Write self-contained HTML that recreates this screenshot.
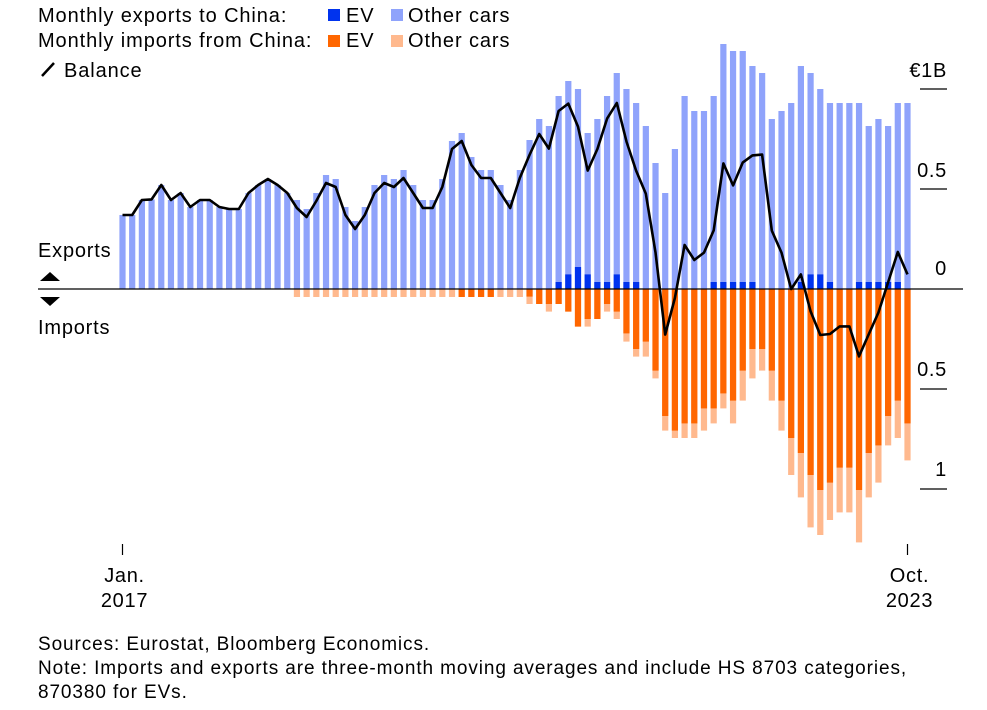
<!DOCTYPE html>
<html><head><meta charset="utf-8"><style>
body{margin:0;background:#fff;font-family:"Liberation Sans",sans-serif;color:#000}
svg text{font-family:"Liberation Sans",sans-serif}
</style></head><body>
<svg id="c" width="987" height="705">
<g font-size="20" letter-spacing="0.9">
<text x="38" y="22">Monthly exports to China:</text>
<rect x="328" y="9" width="12" height="12" fill="#0033ee"/>
<text x="346" y="22">EV</text>
<rect x="391" y="9" width="12" height="12" fill="#8fa3fb"/>
<text x="408" y="22">Other cars</text>
<text x="38" y="47">Monthly imports from China:</text>
<rect x="328" y="35" width="12" height="12" fill="#ff6600"/>
<text x="346" y="47">EV</text>
<rect x="391" y="35" width="12" height="12" fill="#ffb98e"/>
<text x="408" y="47">Other cars</text>
<line x1="42" y1="76" x2="54" y2="63" stroke="#000" stroke-width="2.5"/>
<text x="64" y="77">Balance</text>
</g>
<g id="bars"></g>
<line x1="38" y1="289" x2="963" y2="289" stroke="#000" stroke-width="1.2"/>
<g id="axis" font-size="20" letter-spacing="0.7"></g>
<text x="38" y="257" font-size="20" letter-spacing="0.8">Exports</text>
<polygon points="40,281 50,272 60,281" fill="#000"/>
<polygon points="40,297 50,306 60,297" fill="#000"/>
<text x="38" y="334" font-size="20" letter-spacing="0.8">Imports</text>
<g font-size="19" letter-spacing="0.9">
<text x="38" y="650">Sources: Eurostat, Bloomberg Economics.</text>
<text x="38" y="674">Note: Imports and exports are three-month moving averages and include HS 8703 categories,</text>
<text x="38" y="698">870380 for EVs.</text>
</g>
</svg>
<script>
const exportTotal=[0.37,0.37,0.445,0.448,0.52,0.445,0.48,0.41,0.445,0.445,0.41,0.40,0.40,0.48,0.52,0.55,0.52,0.48,0.445,0.40,0.48,0.57,0.55,0.41,0.34,0.41,0.52,0.57,0.55,0.595,0.52,0.445,0.445,0.55,0.74,0.78,0.66,0.595,0.595,0.52,0.445,0.595,0.745,0.85,0.815,0.965,1.04,1.0,0.78,0.85,0.965,1.08,1.0,0.93,0.815,0.63,0.48,0.70,0.965,0.89,0.89,0.965,1.225,1.19,1.19,1.115,1.08,0.85,0.89,0.93,1.115,1.08,1.0,0.93,0.93,0.93,0.93,0.815,0.85,0.815,0.93,0.93];
const exportEV=[0,0,0,0,0,0,0,0,0,0,0,0,0,0,0,0,0,0,0,0,0,0,0,0,0,0,0,0,0,0,0,0,0,0,0,0,0,0,0,0,0,0,0,0,0,0.035,0.073,0.11,0.073,0.035,0.035,0.073,0.035,0.035,0,0,0,0,0,0,0,0.035,0.035,0.035,0.035,0.035,0,0,0,0,0.035,0.073,0.073,0.035,0,0,0.035,0.035,0.035,0.035,0.035,0];
const importTotal=[0,0,0,0,0,0,0,0,0,0,0,0,0,0,0,0,0,0,0.04,0.04,0.04,0.04,0.04,0.04,0.04,0.04,0.04,0.04,0.04,0.04,0.04,0.04,0.04,0.04,0.04,0.04,0.04,0.04,0.04,0.04,0.04,0.04,0.075,0.075,0.113,0.075,0.113,0.188,0.188,0.15,0.113,0.15,0.263,0.338,0.338,0.447,0.708,0.745,0.745,0.745,0.708,0.672,0.597,0.672,0.558,0.447,0.408,0.558,0.708,0.93,1.042,1.192,1.23,1.155,1.117,1.117,1.267,1.042,0.968,0.782,0.745,0.857];
const importEV=[0,0,0,0,0,0,0,0,0,0,0,0,0,0,0,0,0,0,0,0,0,0,0,0,0,0,0,0,0,0,0,0,0,0,0,0.04,0.04,0.04,0.04,0,0,0,0.038,0.075,0.075,0.075,0.113,0.188,0.15,0.15,0.075,0.113,0.222,0.30,0.263,0.408,0.635,0.708,0.672,0.672,0.597,0.597,0.522,0.558,0.408,0.30,0.30,0.408,0.558,0.745,0.82,0.93,1.005,0.968,0.893,0.893,1.005,0.82,0.782,0.635,0.558,0.672];
const yTicksUp=[{v:1,l:"€1B"},{v:0.5,l:"0.5"},{v:0,l:"0"}];
const yTicksDown=[{v:0.5,l:"0.5"},{v:1,l:"1"}];
const xTickLabels=[{i:0,a:"Jan.",b:"2017"},{i:81,a:"Oct.",b:"2023"}];
const NS="http://www.w3.org/2000/svg";
const x0=122.5,step=(907.5-122.5)/81,zeroY=289,pxPerB=200,bw=6.2;
const X=i=>x0+i*step;
const Y=v=>zeroY-v*pxPerB;
const bars=document.getElementById('bars');
function rect(x,y,w,h,fill){const r=document.createElementNS(NS,'rect');r.setAttribute('x',x);r.setAttribute('y',y);r.setAttribute('width',w);r.setAttribute('height',Math.max(0,h));r.setAttribute('fill',fill);bars.appendChild(r);return r;}
exportTotal.forEach((v,i)=>{
 const cx=X(i)-bw/2;
 let r=rect(cx,Y(v),bw,zeroY-Y(v),'#8fa3fb');
 
 
 if(exportEV[i]>0){r=rect(cx,Y(exportEV[i]),bw,zeroY-Y(exportEV[i]),'#0033ee');
 
 }
 if(importTotal[i]>0){r=rect(cx,zeroY,bw,importTotal[i]*pxPerB,'#ffb98e');
 
 }
 if(importEV[i]>0){r=rect(cx,zeroY,bw,importEV[i]*pxPerB,'#ff6600');
 
 }
});
const pts=exportTotal.map((v,i)=>X(i).toFixed(1)+','+Y(v-importTotal[i]).toFixed(1)).join(' ');
const pl=document.createElementNS(NS,'polyline');
pl.setAttribute('points',pts);pl.setAttribute('fill','none');pl.setAttribute('stroke','#000');pl.setAttribute('stroke-width','2.6');pl.setAttribute('stroke-linejoin','round');


document.getElementById('c').appendChild(pl);
const ax=document.getElementById('axis');
function txt(x,y,s,anchor){const t=document.createElementNS(NS,'text');t.setAttribute('x',x);t.setAttribute('y',y);t.setAttribute('text-anchor',anchor);t.textContent=s;ax.appendChild(t);return t;}
function ln(x1,y1,x2,y2){const l=document.createElementNS(NS,'line');l.setAttribute('x1',x1);l.setAttribute('y1',y1);l.setAttribute('x2',x2);l.setAttribute('y2',y2);l.setAttribute('stroke','#000');l.setAttribute('stroke-width','1.2');ax.appendChild(l);return l;}
yTicksUp.forEach(t=>{
 if(t.v>0){const l=ln(920,Y(t.v),947,Y(t.v));
 
 }
 const e=txt(947,Y(t.v)-(t.v>0?12:14),t.l,'end');
 
 
});
yTicksDown.forEach(t=>{
 const l=ln(920,zeroY+t.v*pxPerB,947,zeroY+t.v*pxPerB);
 
 
 const e=txt(947,zeroY+t.v*pxPerB-13,t.l,'end');
 
 
});
xTickLabels.forEach(t=>{
 const l=ln(X(t.i),544,X(t.i),555);
 
 
 let e=txt(X(t.i)+2,582,t.a,'middle');
 
 
 e=txt(X(t.i)+2,607,t.b,'middle');
 
 
});
</script>
</body></html>
